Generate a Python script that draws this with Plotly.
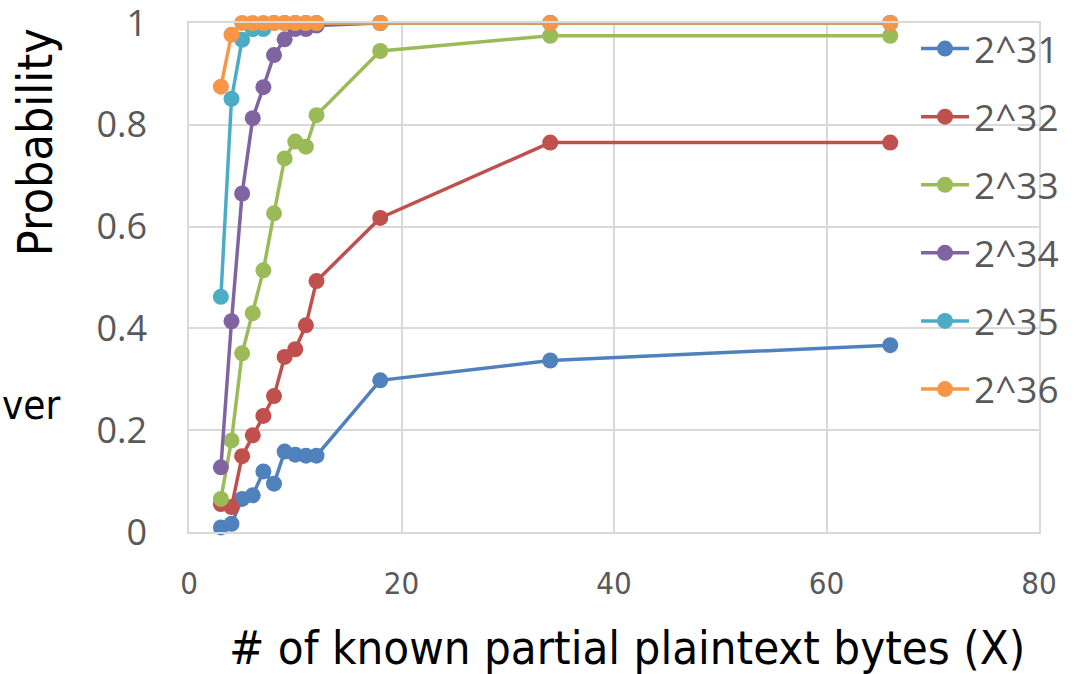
import plotly.graph_objects as go

# Known partial plaintext bytes (X)
known_bytes = [3, 4, 5, 6, 7, 8, 9, 10, 11, 12, 18, 34, 66]

# Recovery probability for each number of samples
p_2_31 = [0.009, 0.016, 0.065, 0.072, 0.119, 0.095, 0.158, 0.152, 0.150, 0.150, 0.298, 0.337, 0.367]
p_2_32 = [0.055, 0.049, 0.149, 0.190, 0.228, 0.267, 0.344, 0.359, 0.406, 0.493, 0.617, 0.765, 0.765]
p_2_33 = [0.065, 0.180, 0.351, 0.430, 0.514, 0.626, 0.734, 0.767, 0.757, 0.819, 0.945, 0.975, 0.975]
p_2_34 = [0.127, 0.414, 0.665, 0.813, 0.874, 0.937, 0.968, 0.988, 0.988, 0.995, 1.0, 1.0, 1.0]
p_2_35 = [0.462, 0.851, 0.967, 0.988, 0.988, 1.0, 1.0, 1.0, 1.0, 1.0, 1.0, 1.0, 1.0]
p_2_36 = [0.875, 0.977, 1.0, 1.0, 1.0, 1.0, 1.0, 1.0, 1.0, 1.0, 1.0, 1.0, 1.0]

series_names = ["2^31", "2^32", "2^33", "2^34", "2^35", "2^36"]
series_values = [p_2_31, p_2_32, p_2_33, p_2_34, p_2_35, p_2_36]
series_colors = ["#4F81BD", "#C0504D", "#9BBB59", "#8064A2", "#4BACC6", "#F79646"]

x_ticks = [0, 20, 40, 60, 80]
y_ticks = [0, 0.2, 0.4, 0.6, 0.8, 1]
y_tick_text = ["0", "0.2", "0.4", "0.6", "0.8", "1"]

fig = go.Figure()
for name, values, color in zip(series_names, series_values, series_colors):
    fig.add_trace(go.Scatter(
        x=known_bytes, y=values, name=name, mode="lines+markers",
        line=dict(color=color, width=3.5),
        marker=dict(color=color, size=16),
        cliponaxis=False, legendgroup=name,
    ))

grid = "#d9d9d9"
tick_font = dict(family="Open Sans, Noto Sans, sans-serif", size=36, color="#595959")
narrow = "Liberation Sans Narrow, DejaVu Sans Condensed, Roboto, sans-serif"

fig.update_layout(
    width=1080, height=674,
    margin=dict(l=189, r=41, t=23, b=142, autoexpand=False),
    paper_bgcolor="white", plot_bgcolor="white",
    showlegend=True,
    legend=dict(
        x=0.8553, xanchor="left", y=0.9733, yanchor="top", yref="container",
        bgcolor="rgba(0,0,0,0)", tracegroupgap=17, maxheight=674,
        font=dict(family="Open Sans, Noto Sans, sans-serif", size=37, color="#595959"),
        itemwidth=48,
    ),
    xaxis=dict(
        range=[0, 80], tickvals=x_ticks, ticks="",
        showgrid=True, gridcolor=grid, gridwidth=1.5,
        showline=True, linecolor=grid, linewidth=1.5, mirror=True,
        zeroline=False, ticklabelstandoff=23,
        tickfont=dict(family=narrow, size=31, color="#595959"),
    ),
    yaxis=dict(
        range=[0, 1], tickvals=y_ticks, ticktext=y_tick_text, ticks="",
        showgrid=True, gridcolor=grid, gridwidth=1.5,
        showline=True, linecolor=grid, linewidth=1.5, mirror=True,
        zeroline=False, ticklabelstandoff=33, ticklabeloverflow="allow",
        tickfont=tick_font,
    ),
    annotations=[
        dict(text="# of known partial plaintext bytes (X)", xref="paper", yref="paper",
             x=0.515, y=-0.226, xanchor="center", yanchor="middle", showarrow=False,
             font=dict(family=narrow, size=47, color="black")),
        dict(text="Probability", xref="paper", yref="paper", textangle=-90,
             x=-0.181, y=0.766, xanchor="center", yanchor="middle", showarrow=False,
             font=dict(family=narrow, size=48, color="black")),
        dict(text="ver", xref="paper", yref="paper",
             x=-0.2224, y=0.249, xanchor="left", yanchor="middle", showarrow=False,
             font=dict(family=narrow, size=40, color="black")),
    ],
)

fig.write_html("out.html")
